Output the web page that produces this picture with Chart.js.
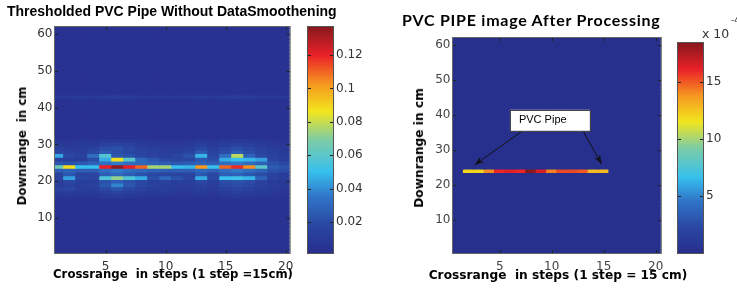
<!DOCTYPE html>
<html>
<head>
<meta charset="utf-8">
<script src="https://cdn.jsdelivr.net/npm/chart.js@4.4.1/dist/chart.umd.min.js"></script>
<style>
  body { margin: 0; background: #fff; }
  #wrap { position: relative; width: 737px; height: 295px; overflow: hidden; }
  canvas { position: absolute; top: 0; }
  .t { position: absolute; white-space: pre; color: #000; line-height: 14px; }
  .ax { font: bold 11.7px 'DejaVu Sans'; }
  .rot { transform: translate(-50%, -50%) rotate(-90deg); }
</style>
</head>
<body>
<div id="wrap">
  <canvas id="leftMap" width="300" height="295" style="left:0"></canvas>
  <canvas id="leftBar" width="75" height="295" style="left:300px"></canvas>
  <canvas id="rightMap" width="270" height="295" style="left:400px"></canvas>
  <canvas id="rightBar" width="67" height="295" style="left:670px"></canvas>

  <div class="t" style="left:7px; top:3px; font: bold 14px 'Liberation Sans'; line-height:16px">Thresholded PVC Pipe Without DataSmoothening</div>
  <div class="t ax rot" style="left:22px; top:146px">Downrange  in cm</div>
  <div class="t ax" style="left:173px; top:267px; transform: translateX(-50%)">Crossrange  in steps (1 step =15cm)</div>

  <div class="t" style="left:402px; top:10px; font: bold 16px Lato; line-height:20px; letter-spacing:0.75px">PVC PIPE image After Processing</div>
  <div class="t ax rot" style="left:419px; top:148px; font-size:12.2px">Downrange in cm</div>
  <div class="t ax" style="left:558px; top:268px; font-size:12.2px; transform: translateX(-50%)">Crossrange  in steps (1 step = 15 cm)</div>
  <div class="t" style="left:702px; top:26px; font: 12.5px 'DejaVu Sans'; color:#333">x 10</div>
  <div class="t" style="left:731px; top:15px; font: 9px 'DejaVu Sans'; color:#333">-4</div>
</div>

<script>
// grid: crossrange steps (columns) and 1 cm downrange rows
const steps = [1, 2, 3, 4, 5, 6, 7, 8, 9, 10, 11, 12, 13, 14, 15, 16, 17, 18, 19, 20];
const rowCount = 62;
const xTicks = [5, 10, 15, 20];
const yTicks = [10, 20, 30, 40, 50, 60];

// left panel: thresholded image, rows not listed sit at the floor value
const leftFloor = 0.004;
const leftRowsY = [43, 31, 30, 29, 28, 27, 26, 25, 24, 23, 22, 21, 20, 19, 18, 17, 16];
const leftRows = [
  [0.009, 0.009, 0.01, 0.009, 0.01, 0.011, 0.01, 0.009, 0.009, 0.009, 0.009, 0.009, 0.01, 0.009, 0.01, 0.011, 0.01, 0.009, 0.009, 0.008],
  [0.007, 0.007, 0.008, 0.007, 0.009, 0.01, 0.009, 0.008, 0.007, 0.007, 0.007, 0.007, 0.009, 0.007, 0.009, 0.01, 0.009, 0.008, 0.007, 0.006],
  [0.01, 0.009, 0.01, 0.01, 0.014, 0.016, 0.014, 0.011, 0.01, 0.009, 0.009, 0.01, 0.013, 0.01, 0.013, 0.015, 0.013, 0.011, 0.009, 0.008],
  [0.013, 0.011, 0.011, 0.015, 0.02, 0.022, 0.018, 0.015, 0.013, 0.011, 0.011, 0.013, 0.018, 0.013, 0.018, 0.021, 0.018, 0.014, 0.011, 0.009],
  [0.018, 0.014, 0.012, 0.018, 0.025, 0.02, 0.018, 0.016, 0.014, 0.012, 0.013, 0.016, 0.025, 0.016, 0.02, 0.026, 0.02, 0.016, 0.013, 0.01],
  [0.045, 0.018, 0.014, 0.032, 0.058, 0.024, 0.022, 0.017, 0.014, 0.013, 0.016, 0.022, 0.048, 0.018, 0.032, 0.078, 0.028, 0.018, 0.014, 0.012],
  [0.014, 0.012, 0.012, 0.02, 0.046, 0.088, 0.06, 0.03, 0.024, 0.018, 0.016, 0.018, 0.024, 0.02, 0.046, 0.05, 0.048, 0.044, 0.016, 0.012],
  [0.024, 0.022, 0.024, 0.028, 0.032, 0.036, 0.032, 0.03, 0.028, 0.026, 0.024, 0.026, 0.028, 0.026, 0.032, 0.036, 0.032, 0.028, 0.022, 0.018],
  [0.065, 0.088, 0.05, 0.05, 0.12, 0.135, 0.12, 0.11, 0.075, 0.075, 0.05, 0.048, 0.102, 0.05, 0.11, 0.118, 0.104, 0.06, 0.025, 0.022],
  [0.026, 0.028, 0.026, 0.026, 0.032, 0.036, 0.032, 0.03, 0.028, 0.026, 0.026, 0.026, 0.03, 0.028, 0.032, 0.036, 0.032, 0.028, 0.022, 0.02],
  [0.016, 0.024, 0.016, 0.016, 0.026, 0.03, 0.026, 0.022, 0.018, 0.016, 0.016, 0.016, 0.024, 0.018, 0.026, 0.028, 0.024, 0.02, 0.014, 0.011],
  [0.014, 0.044, 0.018, 0.016, 0.056, 0.072, 0.056, 0.046, 0.02, 0.03, 0.022, 0.016, 0.046, 0.018, 0.05, 0.052, 0.048, 0.028, 0.014, 0.012],
  [0.012, 0.018, 0.013, 0.013, 0.022, 0.026, 0.022, 0.018, 0.013, 0.015, 0.013, 0.013, 0.018, 0.013, 0.02, 0.022, 0.02, 0.015, 0.011, 0.009],
  [0.012, 0.014, 0.012, 0.014, 0.024, 0.038, 0.024, 0.018, 0.014, 0.012, 0.012, 0.012, 0.014, 0.012, 0.018, 0.02, 0.018, 0.014, 0.012, 0.01],
  [0.014, 0.018, 0.012, 0.012, 0.018, 0.022, 0.018, 0.014, 0.012, 0.012, 0.01, 0.01, 0.012, 0.01, 0.014, 0.016, 0.014, 0.012, 0.01, 0.008],
  [0.01, 0.011, 0.009, 0.009, 0.012, 0.014, 0.012, 0.011, 0.009, 0.009, 0.008, 0.008, 0.01, 0.008, 0.011, 0.012, 0.01, 0.009, 0.008, 0.007],
  [0.007, 0.008, 0.007, 0.007, 0.009, 0.01, 0.009, 0.008, 0.007, 0.007, 0.006, 0.006, 0.007, 0.006, 0.008, 0.009, 0.008, 0.007, 0.006, 0.006]
];
const leftRange = [0.0014, 0.1368];
const leftBarTicks = [0.02, 0.04, 0.06, 0.08, 0.1, 0.12];

// right panel: processed image (units of 1e-4)
const rightFloor = 0.2;
const rightRowsY = [24];
const rightRows = [
  [0.2, 12, 12, 14, 16, 16.3, 16, 18.4, 16.5, 14.2, 15.3, 15.3, 15, 12.8, 12.8, 0.2, 0.2, 0.2, 0.2, 0.2]
];
const rightRange = [0, 18.4];
const rightBarTicks = [5, 10, 15];

// muted jet colormap
const jetStops = [
  [0, [40, 46, 140]], [0.12, [42, 70, 162]], [0.25, [48, 118, 200]], [0.36, [55, 192, 238]],
  [0.5, [125, 204, 165]], [0.625, [242, 230, 30]], [0.75, [246, 150, 32]], [0.875, [234, 32, 40]], [1, [135, 25, 30]]
];

function jet(v, range) {
  const t = Math.max(0, Math.min(1, (v - range[0]) / (range[1] - range[0])));
  for (let i = 1; i < jetStops.length; i++) {
    const [t1, c1] = jetStops[i];
    const [t0, c0] = jetStops[i - 1];
    if (t <= t1) {
      const f = (t - t0) / (t1 - t0);
      return 'rgb(' + c0.map((c, k) => Math.round(c + (c1[k] - c) * f)).join(',') + ')';
    }
  }
  return 'rgb(135,25,30)';
}

function cells(floor, rowsY, rows) {
  const out = [];
  for (let y = 1; y <= rowCount; y++) {
    const i = rowsY.indexOf(y);
    steps.forEach((x, j) => {
      out.push({ x: x, y: [y - 0.5, y + 0.5], v: i < 0 ? floor : rows[i][j] });
    });
  }
  return out;
}

// axes box with small inward ticks, matlab style
const frame = {
  id: 'frame',
  afterDatasetsDraw(chart, args, o) {
    const { ctx, chartArea: a, scales } = chart;
    ctx.save();
    ctx.strokeStyle = o.color;
    ctx.lineWidth = 1;
    ctx.strokeRect(a.left - 0.5, a.top - 0.5, a.width + 1, a.height + 1);
    ctx.strokeStyle = o.tickColor;
    ctx.beginPath();
    if (o.xTicks) {
      scales.x.ticks.forEach(t => {
        const p = Math.round(scales.x.getPixelForValue(t.value)) + 0.5;
        ctx.moveTo(p, a.bottom); ctx.lineTo(p, a.bottom - 3);
        ctx.moveTo(p, a.top); ctx.lineTo(p, a.top + 3);
      });
    }
    scales.y.ticks.forEach(t => {
      const p = Math.round(scales.y.getPixelForValue(t.value)) + 0.5;
      ctx.moveTo(a.left, p); ctx.lineTo(a.left + 3, p);
      ctx.moveTo(a.right, p); ctx.lineTo(a.right - 3, p);
    });
    ctx.stroke();
    ctx.restore();
  }
};

// "PVC Pipe" callout on the processed image
const callout = {
  id: 'callout',
  afterDatasetsDraw(chart, args, o) {
    if (!o.text) return;
    const { ctx, scales: { x, y } } = chart;
    const px = p => [x.getPixelForValue(p[0]), y.getPixelForValue(p[1])];
    ctx.save();
    ctx.strokeStyle = '#111';
    ctx.fillStyle = '#111';
    ctx.lineWidth = 1;
    o.arrows.forEach(ar => {
      const [x0, y0] = px(ar[0]);
      const [x1, y1] = px(ar[1]);
      const ang = Math.atan2(y1 - y0, x1 - x0);
      ctx.beginPath();
      ctx.moveTo(x0, y0); ctx.lineTo(x1, y1);
      ctx.stroke();
      ctx.beginPath();
      ctx.moveTo(x1, y1);
      ctx.lineTo(x1 - 10 * Math.cos(ang - 0.35), y1 - 10 * Math.sin(ang - 0.35));
      ctx.lineTo(x1 - 6 * Math.cos(ang), y1 - 6 * Math.sin(ang));
      ctx.lineTo(x1 - 10 * Math.cos(ang + 0.35), y1 - 10 * Math.sin(ang + 0.35));
      ctx.closePath();
      ctx.fill();
    });
    const [bx0, by0] = px(o.box[0]);
    const [bx1, by1] = px(o.box[1]);
    ctx.fillStyle = '#fff';
    ctx.fillRect(bx0, by0, bx1 - bx0, by1 - by0);
    ctx.strokeStyle = '#444';
    ctx.strokeRect(Math.round(bx0) + 0.5, Math.round(by0) + 0.5, Math.round(bx1 - bx0), Math.round(by1 - by0));
    ctx.fillStyle = '#000';
    ctx.font = '11px "Liberation Sans"';
    ctx.textBaseline = 'middle';
    ctx.fillText(o.text, bx0 + 9, (by0 + by1) / 2);
    ctx.restore();
  }
};

function mapChart(id, data, range, xr, yw, top, tickColor, extra) {
  return new Chart(document.getElementById(id), {
    type: 'bar',
    data: {
      datasets: [{
        data: data,
        backgroundColor: c => jet(c.raw.v, range),
        borderWidth: 0,
        inflateAmount: 0.5,
        categoryPercentage: 1,
        barPercentage: 1
      }]
    },
    options: {
      responsive: false,
      animation: false,
      layout: { padding: { left: 0, right: 9, top: top, bottom: 0 } },
      plugins: {
        legend: { display: false },
        tooltip: { enabled: false },
        frame: { color: '#666', tickColor: '#222', xTicks: true },
        callout: extra || {}
      },
      scales: {
        x: {
          type: 'linear', min: xr[0], max: xr[1], offset: false,
          grid: { display: false, drawTicks: false, offset: false }, border: { display: false },
          afterBuildTicks: s => { s.ticks = xTicks.map(v => ({ value: v })); },
          afterFit: s => { s.height = 42; },
          ticks: { padding: 6.5, color: tickColor, font: { family: 'DejaVu Sans', size: 12 }, callback: v => String(v) }
        },
        y: {
          type: 'linear', min: 0.5, max: 61.9,
          grid: { display: false, drawTicks: false }, border: { display: false },
          afterBuildTicks: s => { s.ticks = yTicks.map(v => ({ value: v })); },
          afterFit: s => { s.width = yw; },
          ticks: { padding: 2.5, color: tickColor, font: { family: 'DejaVu Sans', size: 12 }, callback: v => String(v) }
        }
      }
    },
    plugins: [frame, callout]
  });
}

function barChart(id, range, ticks, top, axisW) {
  return new Chart(document.getElementById(id), {
    type: 'bar',
    data: {
      labels: [''],
      datasets: [{
        data: [range],
        backgroundColor: c => {
          const a = c.chart.chartArea;
          if (!a) return '#888';
          const g = c.chart.ctx.createLinearGradient(0, a.bottom, 0, a.top);
          jetStops.forEach(s => g.addColorStop(s[0], 'rgb(' + s[1].join(',') + ')'));
          return g;
        },
        borderWidth: 0,
        categoryPercentage: 1,
        barPercentage: 1
      }]
    },
    options: {
      responsive: false,
      animation: false,
      layout: { padding: { left: 8, right: 0, top: top, bottom: 42 } },
      plugins: {
        legend: { display: false },
        tooltip: { enabled: false },
        frame: { color: '#555', tickColor: '#222', xTicks: false }
      },
      scales: {
        x: { display: false },
        y: {
          position: 'right', min: range[0], max: range[1],
          grid: { display: false, drawTicks: false }, border: { display: false },
          afterBuildTicks: s => { s.ticks = ticks.map(v => ({ value: v })); },
          afterFit: s => { s.width = axisW; },
          ticks: { padding: 3, color: '#333', font: { family: 'DejaVu Sans', size: 12 }, callback: v => String(v) }
        }
      }
    },
    plugins: [frame]
  });
}

mapChart('leftMap', cells(leftFloor, leftRowsY, leftRows), leftRange, [0.78, 20.33], 55, 27, '#333');
barChart('leftBar', leftRange, leftBarTicks, 27, 42);

mapChart('rightMap', cells(rightFloor, rightRowsY, rightRows), rightRange, [0.5, 20.5], 53, 38, '#444', {
  text: 'PVC Pipe',
  box: [[5.98, 41.4], [13.67, 35.4]],
  arrows: [[[7.2, 35.4], [2.6, 25.7]], [[13.0, 35.4], [14.8, 25.9]]]
});
barChart('rightBar', rightRange, rightBarTicks, 43, 34);
</script>
</body>
</html>
